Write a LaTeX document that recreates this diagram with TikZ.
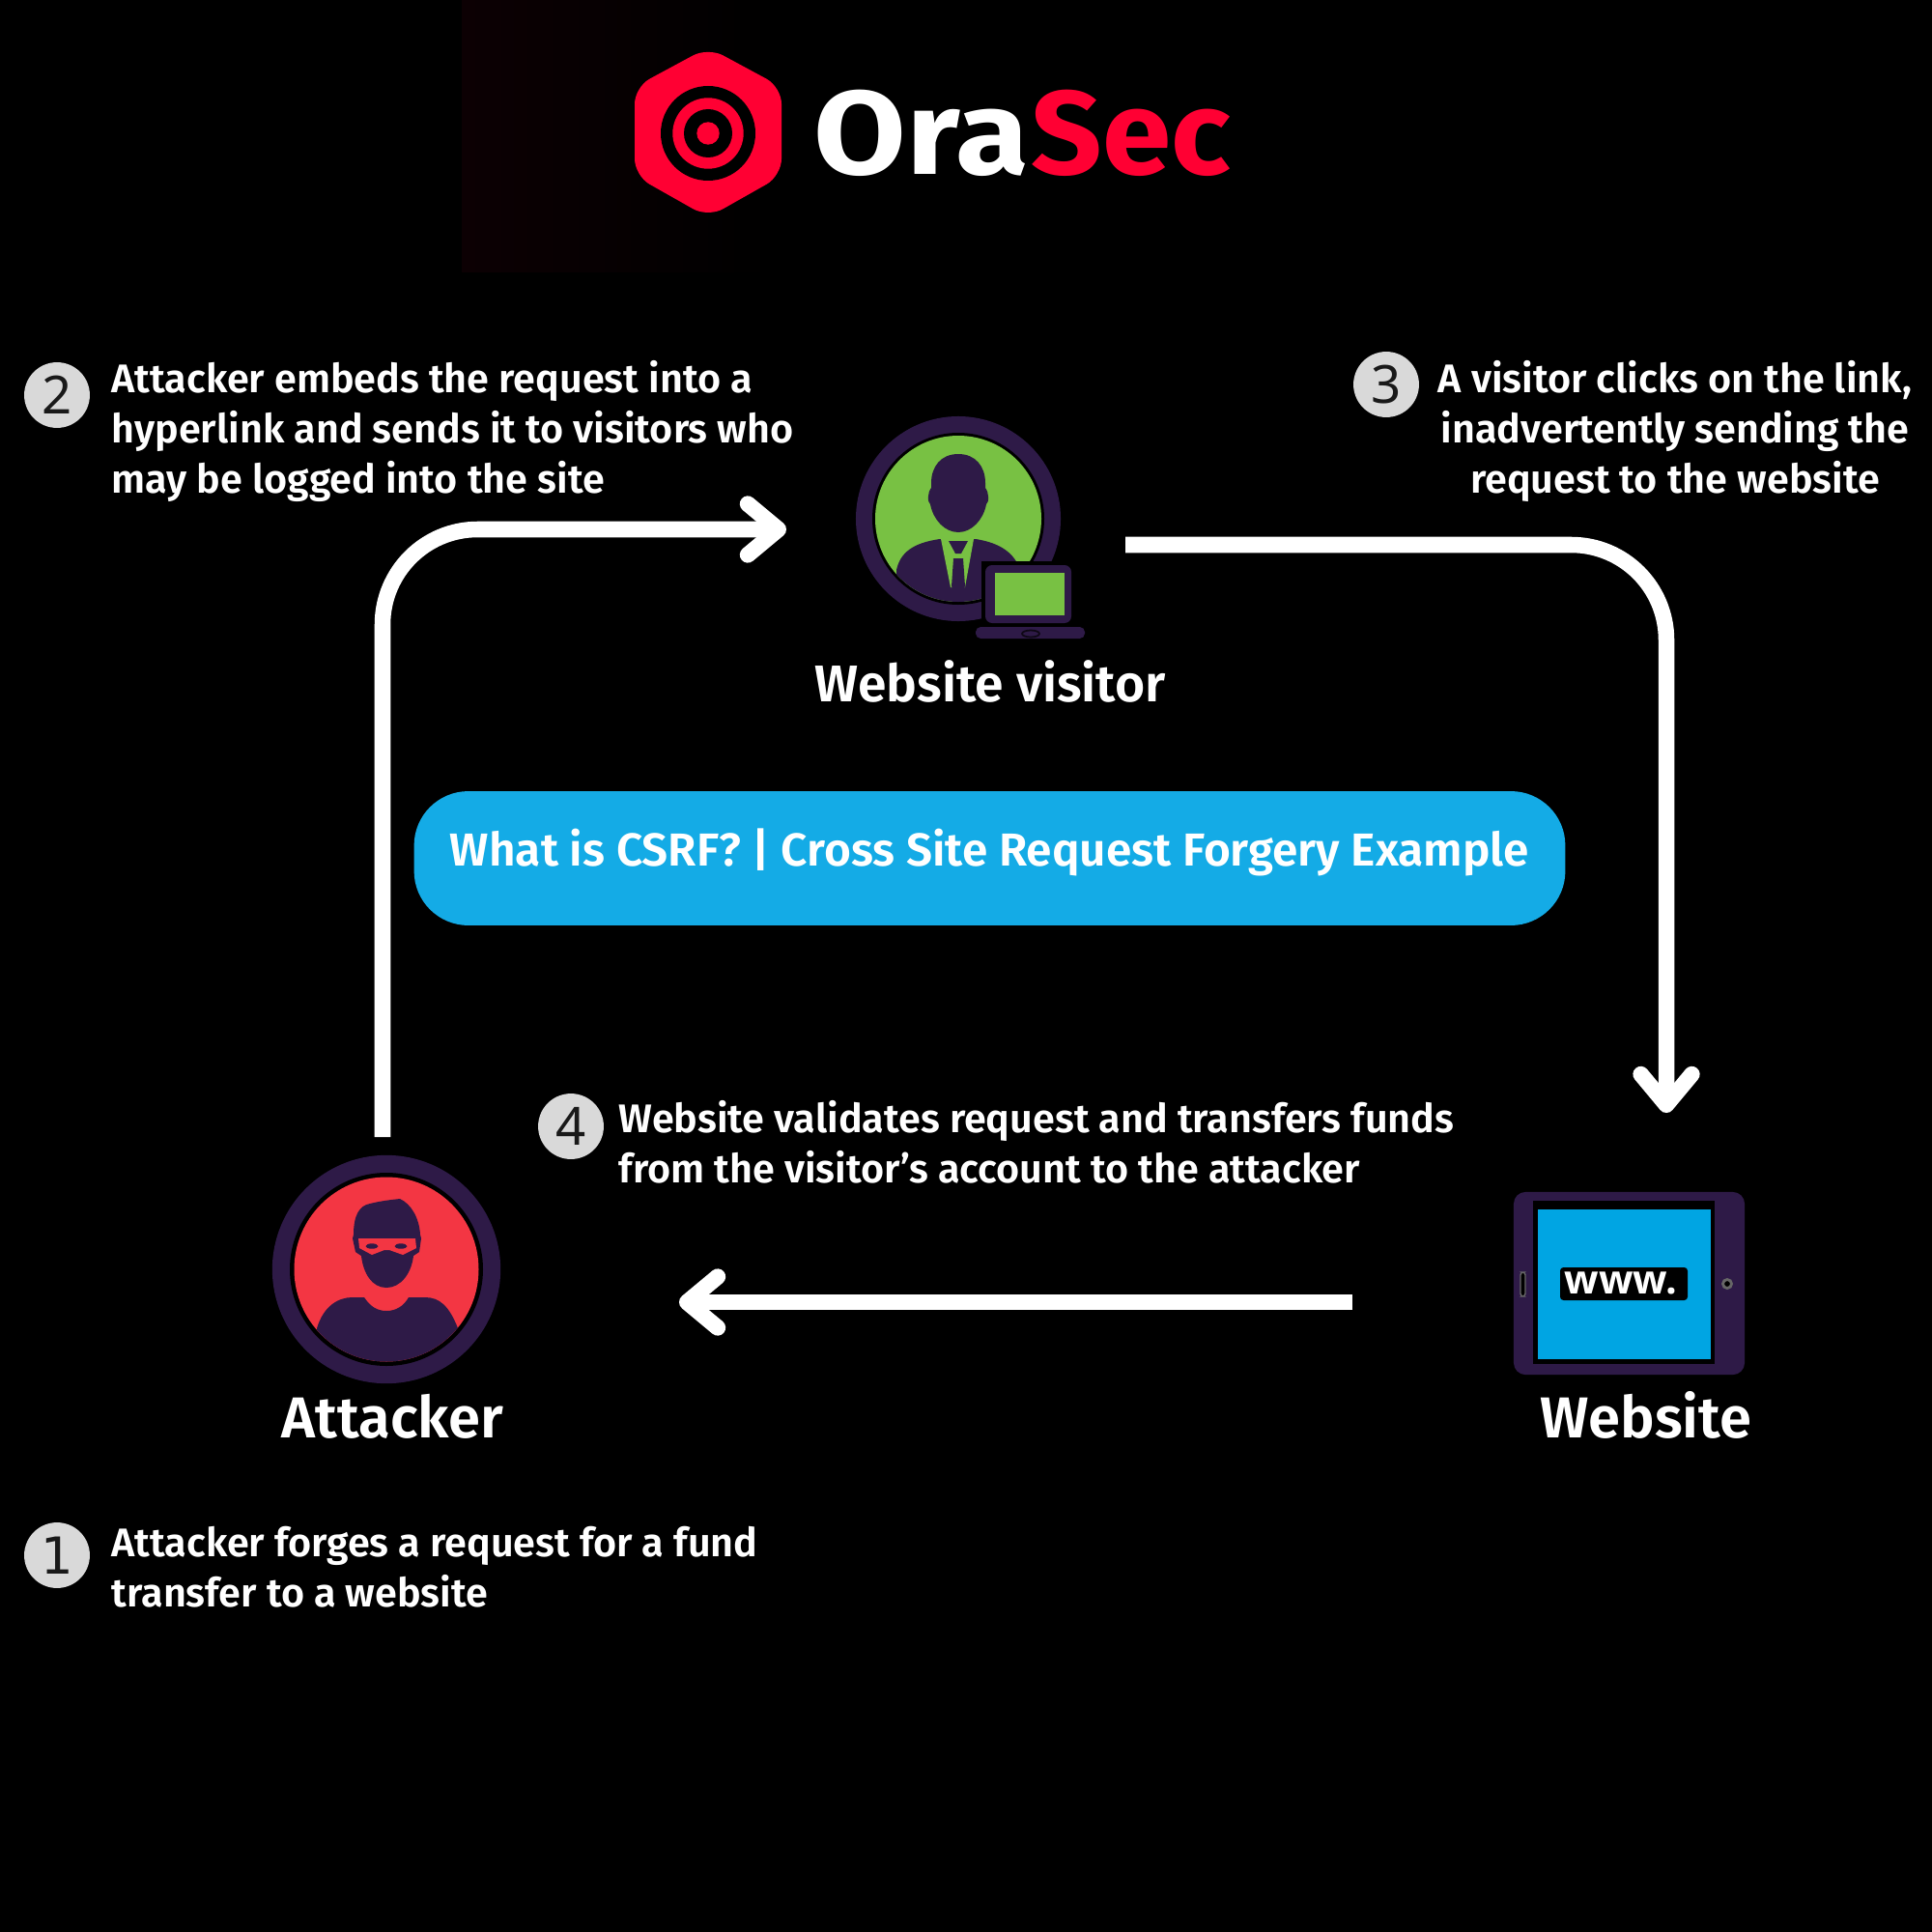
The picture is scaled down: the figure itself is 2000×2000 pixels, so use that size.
\documentclass[tikz,border=0pt]{standalone}
\usepackage{fontspec}
\usepackage{graphicx}
\usetikzlibrary{arrows.meta,shapes.geometric,calc}
\setmainfont{Fira Sans SemiBold}
\newfontfamily\logofont{Fira Sans}
\newfontfamily\wwwfont{Open Sans}
\newfontfamily\digitfont{Noto Sans}
\newfontfamily\onefont{DejaVu Sans}
\definecolor{ink}{HTML}{2E1A47}
\definecolor{logored}{HTML}{FF0033}
\definecolor{pill}{HTML}{14ABE6}
\definecolor{screen}{HTML}{00A5E3}
\definecolor{leaf}{HTML}{78C143}
\definecolor{mask}{HTML}{F33643}
\definecolor{disc}{HTML}{D9D9D9}
\definecolor{glow}{HTML}{0C0003}
\tikzset{
  flow/.style={draw=white,line width=4.7pt,rounded corners=28pt,-{Straight Barb[length=9pt,width=15pt,round]}},
  note/.style={text=white,font=\fontsize{11.75pt}{14.7pt}\selectfont,inner sep=0pt,anchor=base west,align=left},
  actor/.style={text=white,font=\fontsize{15.2pt}{18pt}\selectfont,inner sep=0pt,anchor=base west},
  numdisc/.style={circle,fill=disc,minimum size=19.3pt,inner sep=0pt,text=black!90,font=\digitfont\fontsize{15.5pt}{18pt}\selectfont},
  ringnode/.style={circle,fill=ink,inner sep=0pt},
  brandtext/.style={inner sep=0pt,anchor=base west,font=\logofont\bfseries\fontsize{35pt}{40pt}\selectfont},
}
\begin{document}
\begin{tikzpicture}[x=0.01cm,y=-0.01cm]
\useasboundingbox (0,0) rectangle (2000,2000);
\fill[black] (0,0) rectangle (2000,2000);
\shade[left color=glow,right color=black] (478,0) rectangle (800,281);
% logo
\fill[logored,rounded corners=5pt] (733,49) -- (809,90) -- (809,182) -- (733,225) -- (657,182) -- (657,90) -- cycle;
\fill[black] (733,138) circle [radius=49];
\fill[logored] (733,138) circle [radius=36.7];
\fill[black] (733,138) circle [radius=25];
\fill[logored] (733,138) circle [radius=11.7];
\node[brandtext,text=white] (brand) at (842,180) {\scalebox{1.125}[1.0]{Ora}};
\node[brandtext,text=logored] (brandsec) at (1067,180) {\scalebox{1.046}[1.0]{Sec}};
% pill
\node[fill=pill,rounded corners=16pt,minimum width=338.9pt,minimum height=39.5pt,inner sep=0pt,text=white,
  font=\fontsize{13.6pt}{15pt}\selectfont] (title) at (1024.5,888.5) {\raisebox{-2.4pt}[0pt][0pt]{What is CSRF? | Cross Site Request Forgery Example}};
% visitor icon
\node[ringnode,minimum size=60.3pt] (visitor) at (992,537) {};
\fill[black] (992,537) circle [radius=89];
\fill[leaf] (992,537) circle [radius=86];
\begin{scope}
\clip (992,537) circle [radius=86];
\fill[ink] (928,590) .. controls (932,572) and (945,562) .. (973,558) -- (1010,558) .. controls (1035,562) and (1050,572) .. (1056,590) -- (1056,640) -- (928,640) -- cycle;
\end{scope}
\fill[leaf] (974,558) -- (1008,558) -- (999,608) -- (984,608) -- cycle;
\fill[ink] (982,560) -- (1002,560) -- (995,573) -- (989,573) -- cycle;
\fill[ink] (987,578) -- (997,578) -- (999,607) -- (992,618) -- (985,607) -- cycle;
\fill[ink] (992,470) .. controls (1010,470) and (1020,483) .. (1020,500) -- (1020,505) .. controls (1024,510) and (1024,520) .. (1021,522) .. controls (1018,538) and (1006,551) .. (992,551) .. controls (978,551) and (966,538) .. (963,522) .. controls (960,520) and (960,510) .. (964,505) -- (964,500) .. controls (964,483) and (974,470) .. (992,470) -- cycle;
\fill[black] (1016,581) rectangle (1114,664);
\fill[ink,rounded corners=2pt] (1020,585) rectangle (1109,645);
\fill[leaf] (1030,593) rectangle (1102,637);
\fill[ink,rounded corners=1.5pt] (1010,649) rectangle (1123,661);
\draw[black!70!ink,line width=0.5pt] (1067,656) ellipse [x radius=9,y radius=3.5];
% attacker icon
\node[ringnode,minimum size=67.2pt] (attacker) at (400,1314) {};
\fill[black] (400,1314) circle [radius=100];
\fill[mask] (400,1314) circle [radius=95.5];
\begin{scope}
\clip (400,1314) circle [radius=95.5];
\fill[ink] (328,1375) .. controls (335,1352) and (350,1343) .. (365,1343) -- (377,1343) .. controls (383,1352) and (390,1357) .. (400,1357) .. controls (410,1357) and (418,1352) .. (423,1343) -- (440,1343) .. controls (455,1343) and (465,1352) .. (474,1375) -- (474,1420) -- (328,1420) -- cycle;
\end{scope}
\fill[ink] (366,1278) .. controls (366,1258) and (372,1248) .. (383,1246) .. controls (395,1243) and (405,1242) .. (414,1241) .. controls (425,1246) and (434,1260) .. (435,1278) -- (436,1282) -- (434,1296) -- (428,1300) .. controls (426,1318) and (415,1333) .. (400,1333) .. controls (385,1333) and (376,1318) .. (374,1300) -- (368,1296) -- (365,1282) -- cycle;
\fill[mask] (371,1282) -- (430,1282) -- (431,1292) -- (417,1299) -- (403,1294) -- (398,1294) -- (385,1299) -- (372,1292) -- cycle;
\fill[ink] (385,1290) ellipse [x radius=6.5,y radius=2.7];
\fill[ink] (415,1290) ellipse [x radius=6.5,y radius=2.7];
% website icon
\node[fill=ink,rounded corners=3.5pt,minimum width=68pt,minimum height=53.8pt,inner sep=0pt] (website) at (1686.5,1328.5) {};
\fill[black] (1587,1243) rectangle (1775,1412);
\fill[screen] (1592,1252) rectangle (1771,1407);
\fill[black,rounded corners=1pt] (1615,1312) rectangle (1747,1346);
\node[inner sep=0pt,anchor=base west,text=white,font=\wwwfont\bfseries\fontsize{11.8pt}{14pt}\selectfont] (wwwlabel) at (1619,1339) {www.};
\draw[black!60!white,fill=black,line width=0.4pt,rounded corners=0.8pt] (1574,1317) rectangle (1579,1342);
\draw[black!60!white,fill=black,line width=0.8pt] (1788,1329) circle [radius=4.5];
% actors
\node[actor] (visitorlabel) at (843,726) {Website visitor};
\node[actor,font=\fontsize{17pt}{18pt}\selectfont] (attackerlabel) at (291,1488) {Attacker};
\node[actor,font=\fontsize{17pt}{18pt}\selectfont] (websitelabel) at (1594,1488) {Website};
% numbered notes
\node[numdisc] (n2) at (59,409) {2};
\node[numdisc] (n3) at (1435,398) {3};
\node[numdisc] (n4) at (591,1166) {4};
\node[numdisc,font=\onefont\fontsize{15pt}{18pt}\selectfont] (n1) at (59,1610) {1};
\node[note] (t2) at (115,510) {Attacker embeds the request into a\\hyperlink and sends it to visitors who\\may be logged into the site};
\node[note,align=center,anchor=base] (t3) at (1734,510) {A visitor clicks on the link,\\inadvertently sending the\\request to the website};
\node[note] (t4) at (640,1224) {Website validates request and transfers funds\\from the visitor’s account to the attacker};
\node[note] (t1) at (115,1663) {Attacker forges a request for a fund\\transfer to a website};
% connectors
\coordinate (attackerout) at (396,1177);
\coordinate (visitorin) at (814,548);
\coordinate (visitorout) at (1165,564);
\coordinate (websitein) at (1725,1152);
\coordinate (websiteout) at (1400,1348);
\coordinate (attackerin) at (703,1348);
\draw[flow] (attackerout) |- (visitorin);
\draw[flow] (visitorout) -| (websitein);
\draw[flow] (websiteout) -- (attackerin);
\end{tikzpicture}
\end{document}
